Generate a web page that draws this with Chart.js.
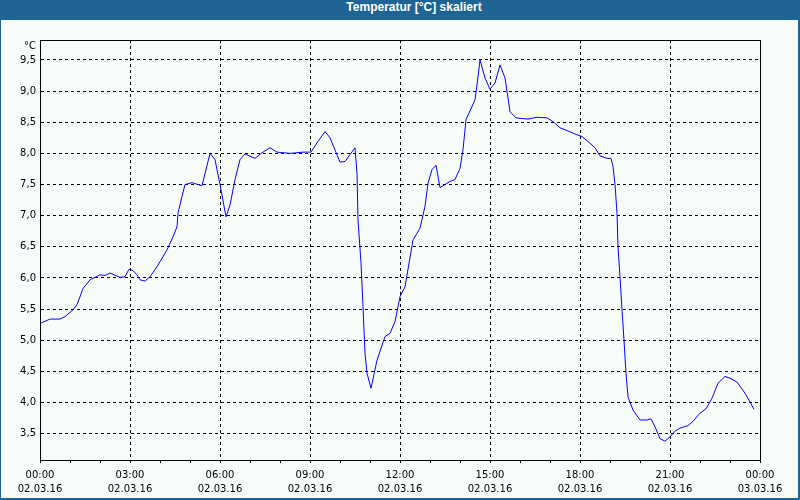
<!DOCTYPE html>
<html>
<head>
<meta charset="utf-8">
<script src="https://cdn.jsdelivr.net/npm/chart.js@4/dist/chart.umd.min.js"></script>
<style>
  html, body { margin: 0; padding: 0; background: #1e6495; }
  #wrap { position: relative; width: 800px; height: 500px; background: #1e6495; overflow: hidden; }
  #title { position: absolute; left: 0; top: 0; width: 800px; height: 20px; line-height: 20px;
           color: #ffffff; font: bold 12px "Liberation Sans", Arial, sans-serif; text-align: center;
           box-sizing: border-box; padding-left: 28px; }
  #panel { position: absolute; left: 1px; top: 20px; width: 797px; height: 478px; background: #f8fcf8; }
  canvas { display: block; }
</style>
</head>
<body>
<div id="wrap">
  <div id="title">Temperatur [°C] skaliert</div>
  <div id="panel"><canvas id="c" width="797" height="478"></canvas></div>
</div>
<script>
// Time in minutes since 02.03.16 00:00
const minutes = [0,20,40,50,66,74,86,100,120,130,140,160,170,178,186,194,200,210,220,234,254,266,274,276,284,290,304,316,
  324,340,350,360,372,380,390,400,410,430,444,460,474,500,526,542,554,570,580,600,610,630,634,636,642,646,650,654,662,674,
  690,700,710,720,730,746,760,770,776,784,792,800,820,830,840,846,852,870,874,880,890,900,910,920,930,940,952,976,994,1014,
  1026,1040,1056,1070,1084,1096,1110,1120,1134,1142,1146,1150,1154,1156,1160,1164,1168,1172,1176,1186,1200,1214,1222,1230,
  1240,1250,1260,1270,1280,1296,1306,1320,1332,1344,1356,1370,1380,1394,1410,1420,1428];
const temperature = [5.27,5.34,5.34,5.38,5.49,5.57,5.83,5.97,6.05,6.04,6.08,6.01,6.02,6.14,6.12,6.05,5.97,5.95,6.02,6.18,6.45,6.66,6.82,7.04,7.31,7.50,7.53,7.50,
  7.48,8.00,7.90,7.50,6.98,7.17,7.58,7.90,7.99,7.92,8.01,8.09,8.02,8.00,8.02,8.02,8.17,8.35,8.25,7.86,7.87,8.09,7.68,6.93,6.24,5.54,4.79,4.47,4.23,4.68,
  5.06,5.11,5.30,5.70,5.86,6.61,6.80,7.15,7.52,7.74,7.81,7.45,7.55,7.58,7.76,8.06,8.54,8.86,9.10,9.50,9.21,9.03,9.13,9.42,9.21,8.67,8.57,8.55,8.58,8.57,
  8.51,8.41,8.36,8.31,8.27,8.19,8.09,7.96,7.92,7.92,7.79,7.50,7.04,6.50,6.02,5.49,5.00,4.47,4.09,3.88,3.72,3.72,3.74,3.61,
  3.42,3.38,3.45,3.54,3.59,3.63,3.70,3.83,3.90,4.07,4.31,4.42,4.39,4.33,4.15,4.01,3.89];
const xTickMinutes = [0,180,360,540,720,900,1080,1260,1440];
const xTickTimes = ['00:00','03:00','06:00','09:00','12:00','15:00','18:00','21:00','00:00'];
const xTickDates = ['02.03.16','02.03.16','02.03.16','02.03.16','02.03.16','02.03.16','02.03.16','02.03.16','03.03.16'];
const yTickValues = [3.5,4.0,4.5,5.0,5.5,6.0,6.5,7.0,7.5,8.0,8.5,9.0,9.5];
const yUnit = '°C';

const FONT = { family: '"DejaVu Sans", Verdana, sans-serif', size: 10, lineHeight: 1.4 };

const framePlugin = {
  id: 'frame',
  afterDatasetsDraw(chart) {
    const { ctx, chartArea: a } = chart;
    ctx.save();
    ctx.strokeStyle = '#000';
    ctx.lineWidth = 1;
    ctx.setLineDash([]);
    ctx.strokeRect(Math.round(a.left) + 0.5, Math.round(a.top) + 0.5,
                   Math.round(a.right - a.left), Math.round(a.bottom - a.top));
    ctx.fillStyle = '#000';
    ctx.font = '10px "DejaVu Sans", Verdana, sans-serif';
    ctx.textAlign = 'right';
    ctx.textBaseline = 'middle';
    ctx.fillText(yUnit, a.left - 4, a.top + 6);
    ctx.restore();
  }
};

new Chart(document.getElementById('c'), {
  type: 'line',
  data: {
    datasets: [{
      data: minutes.map((m, i) => ({ x: m, y: temperature[i] })),
      borderColor: '#0000ff',
      borderWidth: 1,
      pointRadius: 0,
      tension: 0,
      fill: false
    }]
  },
  options: {
    responsive: false,
    animation: false,
    layout: { padding: { top: 20, right: 38, left: 0, bottom: 0 } },
    plugins: { legend: { display: false }, tooltip: { enabled: false }, title: { display: false } },
    scales: {
      x: {
        type: 'linear',
        min: 0,
        max: 1440,
        afterFit(s) { s.height = 38; },
        ticks: {
          stepSize: 60,
          autoSkip: false,
          maxRotation: 0,
          color: '#000',
          font: FONT,
          padding: 5,
          callback(v) {
            const i = xTickMinutes.indexOf(v);
            return i >= 0 ? [xTickTimes[i], xTickDates[i]] : '';
          }
        },
        grid: {
          color(c) {
            const v = c.tick ? c.tick.value : -1;
            return (v % 180 === 0 && v > 0 && v < 1440) ? '#000' : 'rgba(0,0,0,0)';
          },
          lineWidth: 1,
          drawTicks: true,
          tickLength: 3,
          tickColor: '#000',
          tickBorderDash: []
        },
        border: { display: true, color: '#000', width: 1, dash: [3, 3] }
      },
      y: {
        type: 'linear',
        min: 3.078,
        max: 9.82,
        afterFit(s) { s.width = 39; },
        afterBuildTicks(s) { s.ticks = yTickValues.map(v => ({ value: v })); },
        ticks: {
          color: '#000',
          font: FONT,
          padding: 4,
          callback(v) { return v.toFixed(1).replace('.', ','); }
        },
        grid: {
          color: '#000',
          lineWidth: 1,
          drawTicks: false
        },
        border: { display: true, color: '#000', width: 1, dash: [3, 3] }
      }
    }
  },
  plugins: [framePlugin]
});
</script>
</body>
</html>
